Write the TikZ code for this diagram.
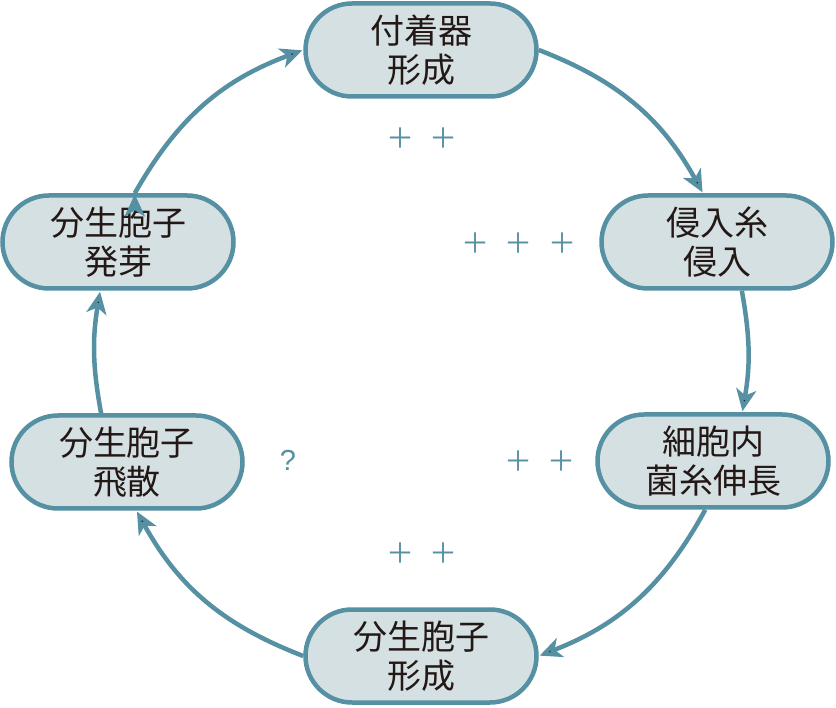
\documentclass[tikz,border=0pt]{standalone}
\usepackage{fontspec}
\newfontfamily\cjk{Noto Sans CJK JP}
\newfontfamily\latn{Liberation Sans}
\usetikzlibrary{shapes.misc, arrows.meta}
\definecolor{cyclepen}{HTML}{5590A3}
\definecolor{cyclefill}{HTML}{D5E0E3}
\definecolor{cycletext}{HTML}{231815}
\newcommand\gp{\hspace{16pt}}
\tikzset{
	>={Stealth[length=22pt, width=20pt, inset=6pt]},
	stagebox/.style={rounded rectangle, draw=cyclepen, fill=cyclefill, line width=4.5pt,
		minimum width=231pt, minimum height=93pt, inner sep=0pt, align=center,
		text=cycletext, font=\cjk\fontsize{34}{39}\selectfont},
	signtext/.style={text=cyclepen, inner sep=0pt, font=\cjk\fontsize{28}{30}\selectfont},
	flow/.style={->, draw=cyclepen, line width=4.5pt, shorten >=1pt}}

\begin{document}
\begin{tikzpicture}[x=1pt, y=-1pt]
		\useasboundingbox (0,0) rectangle (836,708);
		\node[stagebox] (fuchaku) at (421,50) {付着器\\形成};
		\node[stagebox] (shinnyu) at (717,242) {侵入糸\\侵入};
		\node[stagebox] (shinchou) at (713,461) {細胞内\\菌糸伸長};
		\node[stagebox] (keisei) at (421,656) {分生胞子\\形成};
		\node[stagebox] (hisan) at (127,462) {分生胞子\\飛散};
		\node[stagebox] (hatsuga) at (118,242) {分生胞子\\発芽};
		
		\node[signtext] (plusA) at (422,138) {＋\gp＋};
		\node[signtext] (plusB) at (519,243) {＋\gp＋\gp＋};
		\node[signtext] (plusC) at (540,461) {＋\gp＋};
		\node[signtext] (plusD) at (422,553) {＋\gp＋};
		\node[signtext, font=\latn\fontsize{29}{32}\selectfont] (query) at (288,460) {?};
		
		\draw[flow]
		(fuchaku.east) edge[bend left=20] (shinnyu.106)
		(shinnyu.297) edge[bend left=10] (shinchou.59)
		(shinchou.261) edge[bend left=20] (keisei.east)
		(keisei.west) edge[bend left=20] (hisan.281)
		(hisan.118) edge[bend left=10] (hatsuga.250)
		(hatsuga.71) edge[bend left=20] (fuchaku.west)
		;
	\end{tikzpicture}
\end{document}
